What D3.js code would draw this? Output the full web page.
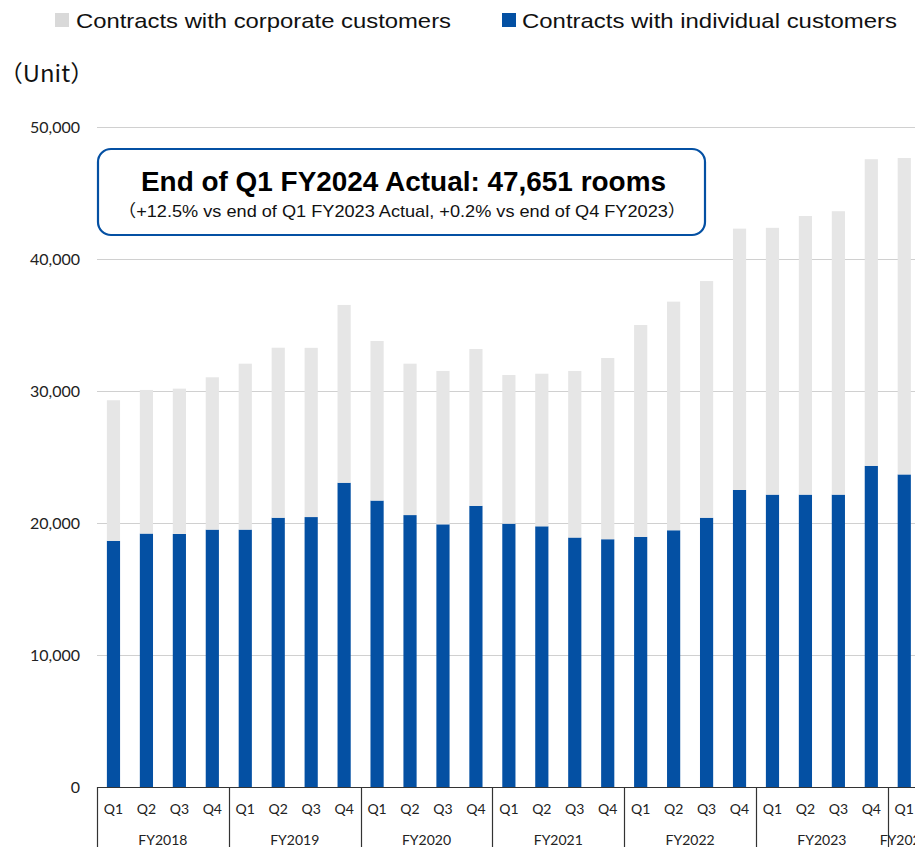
<!DOCTYPE html>
<html>
<head>
<meta charset="utf-8">
<script src="https://cdn.jsdelivr.net/npm/d3@7"></script>
<style>
  html, body { margin: 0; padding: 0; background: #fff; overflow: hidden; }
  svg { display: block; }
</style>
</head>
<body>
<svg id="chart" width="915" height="847"></svg>
<script>
// Fiscal years and quarters shown on the two-level category axis
const fiscalYears = ["FY2018", "FY2019", "FY2020", "FY2021", "FY2022", "FY2023", "FY2024"];
const quarters = ["Q1", "Q2", "Q3", "Q4"];
const quartersPerYear = [4, 4, 4, 4, 4, 4, 1];

// Contracts with individual customers (units)
const individual = [
  18650, 19200, 19170, 19500,
  19500, 20400, 20450, 23050,
  21700, 20600, 19900, 21300,
  19950, 19750, 18900, 18770,
  18950, 19450, 20400, 22500,
  22150, 22150, 22150, 24330,
  23680
];

// Contracts with corporate customers (units)
const corporate = [
  10650, 10880, 11010, 11540,
  12570, 12880, 12820, 13470,
  12090, 11470, 11620, 11880,
  11260, 11560, 12620, 13730,
  16050, 17320, 17930, 19800,
  20210, 21110, 21470, 23230,
  23971
];

const seriesNames = ["Contracts with corporate customers", "Contracts with individual customers"];
const yTicks = [0, 10000, 20000, 30000, 40000, 50000];

const headline = "End of Q1 FY2024 Actual: 47,651 rooms";
const subline = "\uFF08+12.5% vs end of Q1 FY2023 Actual, +0.2% vs end of Q4 FY2023\uFF09";
const unitLabel = "\uFF08Unit\uFF09";

// Build the row table: one row per quarter
const rows = [];
fiscalYears.forEach((fy, gi) => {
  for (let q = 0; q < quartersPerYear[gi]; q++) {
    const i = rows.length;
    rows.push({ id: i, fy, q: quarters[q], individual: individual[i], corporate: corporate[i] });
  }
});

const colors = { individual: "#0450a3", corporate: "#e6e6e6" };
const legendSwatch = { individual: "#0450a3", corporate: "#d9d9d9" };

const svg = d3.select("#chart");
const plotLeft = 97, plotTop = 127, plotBottom = 787;
const step = 32.95;

const x = d3.scaleBand()
  .domain(rows.map(d => d.id))
  .range([plotLeft, plotLeft + rows.length * step])
  .paddingInner(0.6)
  .paddingOuter(0.3);

const y = d3.scaleLinear().domain([0, 50000]).range([plotBottom, plotTop]);

// Horizontal gridlines
svg.append("g")
  .selectAll("line")
  .data(yTicks.filter(t => t > 0))
  .join("line")
  .attr("x1", plotLeft).attr("x2", 915)
  .attr("y1", d => Math.round(y(d)) + 0.5).attr("y2", d => Math.round(y(d)) + 0.5)
  .attr("stroke", "#d0d0d0").attr("stroke-width", 1);

// Y-axis tick labels
svg.append("g")
  .selectAll("text")
  .data(yTicks)
  .join("text")
  .attr("x", 80)
  .attr("y", d => y(d))
  .attr("dy", "0.36em")
  .attr("text-anchor", "end")
  .attr("font-family", "Lato, sans-serif")
  .attr("font-size", 16)
  .attr("fill", "#222")
  .text(d => d3.format(",")(d));

// Stacked bars: individual at the bottom, corporate on top
const stack = d3.stack().keys(["individual", "corporate"]);
const layers = stack(rows);

svg.append("g")
  .selectAll("g")
  .data(layers)
  .join("g")
  .attr("fill", d => colors[d.key])
  .selectAll("rect")
  .data(d => d)
  .join("rect")
  .attr("x", d => x(d.data.id))
  .attr("width", x.bandwidth())
  .attr("y", d => y(d[1]))
  .attr("height", d => y(d[0]) - y(d[1]));

// Category axis: baseline, group separators, quarter and fiscal-year labels
const axis = svg.append("g").attr("stroke", "#333").attr("fill", "none");
axis.append("line")
  .attr("x1", plotLeft).attr("x2", 915)
  .attr("y1", plotBottom + 0.5).attr("y2", plotBottom + 0.5)
  .attr("stroke-width", 1.2);

const groups = [];
let start = 0;
fiscalYears.forEach((fy, gi) => {
  const first = rows[start], last = rows[start + quartersPerYear[gi] - 1];
  groups.push({
    fy,
    left: x(first.id) + x.bandwidth() / 2 - x.step() / 2,
    center: (x(first.id) + x(last.id) + x.bandwidth()) / 2
  });
  start += quartersPerYear[gi];
});

axis.selectAll("line.sep")
  .data(groups)
  .join("line")
  .attr("class", "sep")
  .attr("x1", d => Math.round(d.left) + 0.5).attr("x2", d => Math.round(d.left) + 0.5)
  .attr("y1", plotBottom).attr("y2", 847)
  .attr("stroke-width", 1.2);

svg.append("g")
  .selectAll("text")
  .data(rows)
  .join("text")
  .attr("x", d => x(d.id) + x.bandwidth() / 2)
  .attr("y", 809)
  .attr("dy", "0.36em")
  .attr("text-anchor", "middle")
  .attr("font-family", "Lato, sans-serif")
  .attr("font-size", 14)
  .attr("fill", "#222")
  .text(d => d.q);

svg.append("g")
  .selectAll("text")
  .data(groups)
  .join("text")
  .attr("x", d => d.center)
  .attr("y", 840)
  .attr("dy", "0.36em")
  .attr("text-anchor", "middle")
  .attr("font-family", "Lato, sans-serif")
  .attr("font-size", 14)
  .attr("fill", "#222")
  .text(d => d.fy);

// Legend
const legend = [
  { key: "corporate", name: seriesNames[0], sx: 55, tx: 76 },
  { key: "individual", name: seriesNames[1], sx: 502, tx: 522 }
];
const lg = svg.append("g");
lg.selectAll("rect")
  .data(legend)
  .join("rect")
  .attr("x", d => d.sx).attr("y", 13)
  .attr("width", 14).attr("height", 14)
  .attr("fill", d => legendSwatch[d.key]);
lg.selectAll("text")
  .data(legend)
  .join("text")
  .attr("x", d => d.tx).attr("y", 28)
  .attr("font-family", "'Liberation Sans', Arial, sans-serif")
  .attr("font-size", 21)
  .attr("textLength", 375)
  .attr("lengthAdjust", "spacingAndGlyphs")
  .attr("fill", "#111")
  .text(d => d.name);

// Unit label
svg.append("text")
  .attr("x", -1).attr("y", 82)
  .attr("font-family", "'Noto Sans CJK JP', 'Liberation Sans', sans-serif")
  .attr("font-size", 23)
  .attr("textLength", 95)
  .attr("lengthAdjust", "spacingAndGlyphs")
  .attr("fill", "#111")
  .text(unitLabel);

// Callout box
const box = svg.append("g");
box.append("rect")
  .attr("x", 98).attr("y", 149)
  .attr("width", 607).attr("height", 86)
  .attr("rx", 13).attr("ry", 13)
  .attr("fill", "#fff")
  .attr("stroke", "#0450a3").attr("stroke-width", 2.2);
box.append("text")
  .attr("x", 141).attr("y", 191)
  .attr("font-family", "'Liberation Sans', Arial, sans-serif")
  .attr("font-weight", "bold")
  .attr("font-size", 27)
  .attr("textLength", 525)
  .attr("lengthAdjust", "spacingAndGlyphs")
  .attr("fill", "#000")
  .text(headline);
box.append("text")
  .attr("x", 118).attr("y", 217)
  .attr("font-family", "'Liberation Sans', 'Noto Sans CJK JP', sans-serif")
  .attr("font-size", 17)
  .attr("textLength", 568)
  .attr("lengthAdjust", "spacingAndGlyphs")
  .attr("fill", "#111")
  .text(subline);
</script>
</body>
</html>
